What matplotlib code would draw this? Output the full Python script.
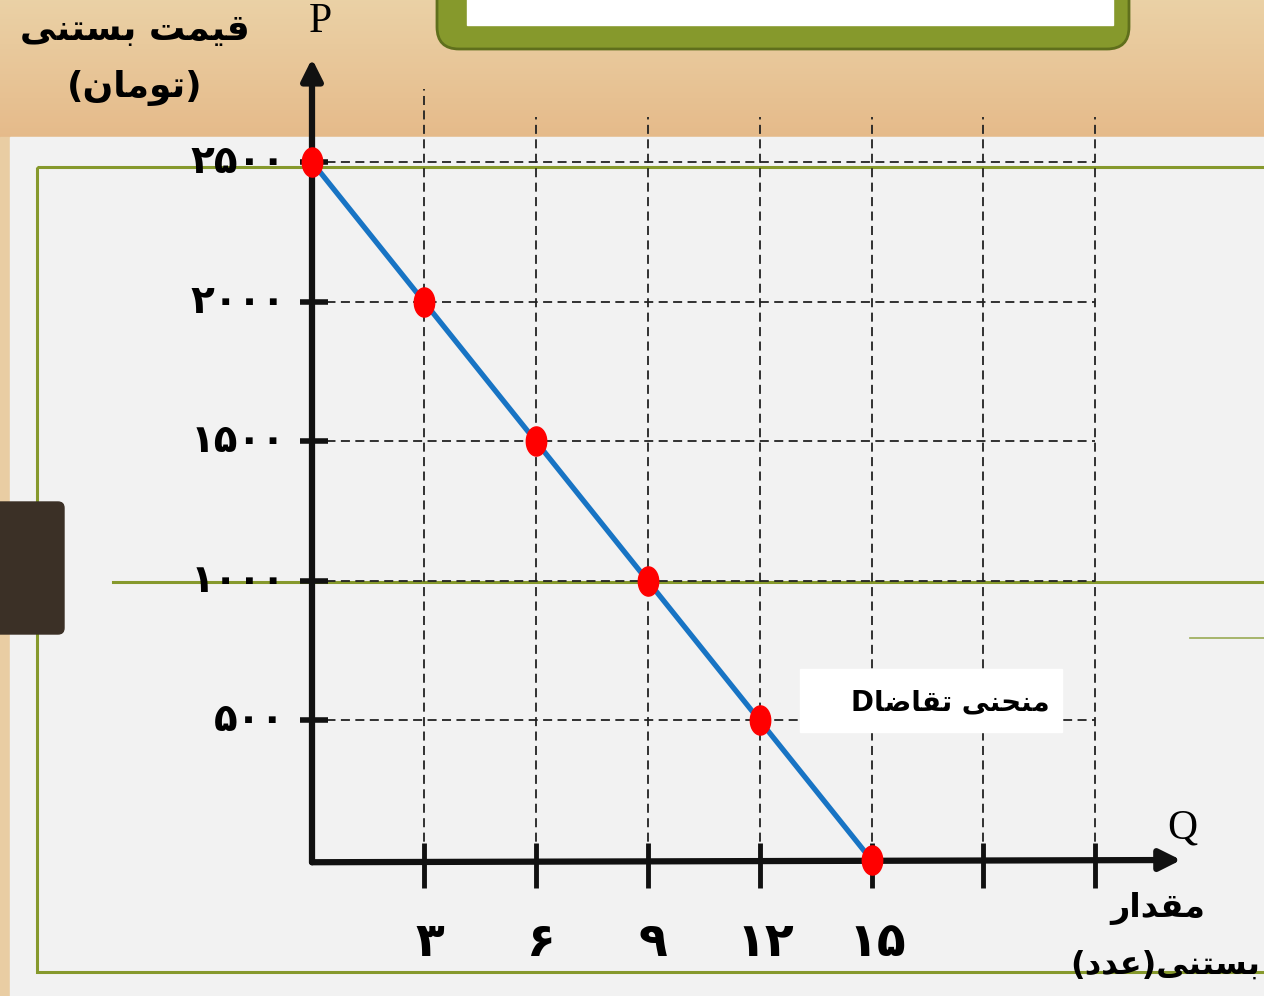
import numpy as np
import matplotlib
matplotlib.use("Agg")
import matplotlib.pyplot as plt
from matplotlib.path import Path
from matplotlib.patches import Rectangle, FancyBboxPatch

# Données de la courbe de demande
quantite = [0, 3, 6, 9, 12, 15]
prix = [2500, 2000, 1500, 1000, 500, 0]
graduations_x = [3, 6, 9, 12, 15, 18, 21]
etiquettes_x = [3, 6, 9, 12, 15]
graduations_y = [500, 1000, 1500, 2000, 2500]

titre_y = ["قیمت بستنی", "(تومان)"]
titre_x = ["مقدار", "بستنی(عدد)"]
legende = "منحنی تقاضاD"

# Formes de présentation arabes (isolée, finale, initiale, médiane)
FORMES = {
    'ا': ('\uFE8D', '\uFE8E'),
    'ب': ('\uFE8F', '\uFE90', '\uFE91', '\uFE92'),
    'ت': ('\uFE95', '\uFE96', '\uFE97', '\uFE98'),
    'ح': ('\uFEA1', '\uFEA2', '\uFEA3', '\uFEA4'),
    'د': ('\uFEA9', '\uFEAA'),
    'ر': ('\uFEAD', '\uFEAE'),
    'س': ('\uFEB1', '\uFEB2', '\uFEB3', '\uFEB4'),
    'ض': ('\uFEBD', '\uFEBE', '\uFEBF', '\uFEC0'),
    'ع': ('\uFEC9', '\uFECA', '\uFECB', '\uFECC'),
    'ق': ('\uFED5', '\uFED6', '\uFED7', '\uFED8'),
    'م': ('\uFEE1', '\uFEE2', '\uFEE3', '\uFEE4'),
    'ن': ('\uFEE5', '\uFEE6', '\uFEE7', '\uFEE8'),
    'و': ('\uFEED', '\uFEEE'),
    'ی': ('\uFEEF', '\uFEF0', '\uFEF3', '\uFEF4'),
}


def persan(s):
    # mise en forme + ordre visuel droite-à-gauche
    out = []
    for i, c in enumerate(s):
        f = FORMES.get(c)
        if f is None:
            out.append(c)
            continue
        prev = s[i - 1] if i > 0 else ''
        nxt = s[i + 1] if i + 1 < len(s) else ''
        lie_prev = prev in FORMES and len(FORMES[prev]) == 4
        lie_next = len(f) == 4 and nxt in FORMES
        if lie_prev and lie_next:
            out.append(f[3])
        elif lie_prev:
            out.append(f[1])
        elif lie_next:
            out.append(f[2])
        else:
            out.append(f[0])
    return ''.join(reversed(out)).translate(str.maketrans('()', ')('))


def chiffres(v):
    return str(v).translate(str.maketrans('0123456789', '۰۱۲۳۴۵۶۷۸۹'))


W, H = 1264, 996
fig = plt.figure(figsize=(W / 100, H / 100), dpi=100)

# Fond (coordonnées en pixels)
bg = fig.add_axes([0, 0, 1, 1])
bg.set_xlim(0, W)
bg.set_ylim(H, 0)
bg.axis("off")
grad = np.linspace(0, 1, 100)[:, None]
c0 = np.array([0.92, 0.82, 0.65])
c1 = np.array([0.90, 0.73, 0.54])
img = c0 + grad[..., None] * (c1 - c0)
img = np.repeat(img, 2, axis=1)
bg.imshow(img, extent=[0, W, 140, 0], aspect="auto", zorder=0)
bg.add_patch(Rectangle((0, 137), W, H - 137, color="#e9cda3", zorder=1))
bg.add_patch(Rectangle((10, 137), W - 10, H - 137, color="#f2f2f2", zorder=1))
vert = "#86992c"
bg.add_patch(Rectangle((37, 167), W, 805, fill=False, ec=vert, lw=2.2, zorder=2))
bg.plot([113, W], [582, 582], color=vert, lw=2.2, zorder=2)
bg.plot([1190, W], [638, 638], color="#9aaa55", lw=1.2, zorder=2)
bg.add_patch(FancyBboxPatch((-20, 502), 84, 132, boxstyle="round,pad=0,rounding_size=6",
                            color="#3b3026", zorder=2))
# encadré du titre (coupé en haut)
bg.add_patch(FancyBboxPatch((437, -40), 692, 89, boxstyle="round,pad=0,rounding_size=22",
                            fc="#86992c", ec="#5f6f1c", lw=2, zorder=2))
bg.add_patch(Rectangle((467, -10), 646, 35, color="white", zorder=3))

police = ["DejaVu Sans"]
bg.text(135, 30, persan(titre_y[0]), ha="center", va="center", fontsize=26,
        fontweight="bold", family=police, zorder=5)
bg.text(135, 88, persan(titre_y[1]), ha="center", va="center", fontsize=26,
        fontweight="bold", family=police, zorder=5)
bg.text(1158, 908, persan(titre_x[0]), ha="center", va="center", fontsize=24,
        fontweight="bold", family=police, zorder=5)
bg.text(1260, 965, persan(titre_x[1]), ha="right", va="center", fontsize=23,
        fontweight="bold", family=police, zorder=5)
bg.text(320, 22, "P", ha="center", va="center", fontsize=30, family="Liberation Serif", zorder=5)
bg.text(1182, 828, "Q", ha="center", va="center", fontsize=30, family="Liberation Serif", zorder=5)

# Axes du graphique
ax = fig.add_axes([0, 0, 1, 1])
ax.patch.set_visible(False)
px_q, x0 = 37.3, 312
px_p, y0 = 0.2792, 860
ax.set_xlim((0 - x0) / px_q, (W - x0) / px_q)
ax.set_ylim((y0 - H) / px_p, y0 / px_p)
ax.axis("off")

tirets = (0, (5, 3))
for p in graduations_y:
    ax.plot([0, graduations_x[-1]], [p, p], color="#222", lw=1.3, ls=tirets, zorder=3)
    ax.plot([-0.32, 0.43], [p, p], color="#111", lw=4, zorder=4, solid_capstyle="butt")
    ax.text(-0.72, p, chiffres(p), ha="right", va="center", fontsize=28,
            fontweight="bold", family=police, zorder=5)
for i, q in enumerate(graduations_x):
    haut = 2760 if i == 0 else 2660
    ax.plot([q, q], [-90, haut], color="#222", lw=1.3, ls=tirets, zorder=3)
    ax.plot([q, q], [60, -100], color="#111", lw=3.5, zorder=4, solid_capstyle="butt")
for q in etiquettes_x:
    ax.text(q + 0.15, -300, chiffres(q), ha="center", va="center", fontsize=34,
            fontweight="bold", family=police, zorder=5)

# flèches des axes
fl = dict(arrowstyle="-|>", lw=4.5, color="#111", mutation_scale=32, shrinkA=0, shrinkB=0)
ax.annotate("", xy=(23.3, 0), xytext=(0, -8), arrowprops=fl, zorder=4)
ax.annotate("", xy=(0, 2870), xytext=(0, -8), arrowprops=fl, zorder=4)

# courbe de demande
t = np.linspace(0, 2 * np.pi, 40)
ellipse = Path(np.c_[0.7 * np.cos(t), np.sin(t)])
ax.plot(quantite, prix, color="#1874c4", lw=3.8, zorder=6)
ax.plot(quantite, prix, ls="none", marker=ellipse, ms=21, color="#ff0000", zorder=7)

# étiquette de la courbe
ax.add_patch(Rectangle((800, 669), 262, 63, color="white", transform=bg.transData, zorder=8))
ax.text((950 - x0) / px_q, (y0 - 702) / px_p, persan(legende), ha="center", va="center",
        fontsize=20, fontweight="bold", family=police, zorder=9)

plt.savefig("out.png", dpi=100)
